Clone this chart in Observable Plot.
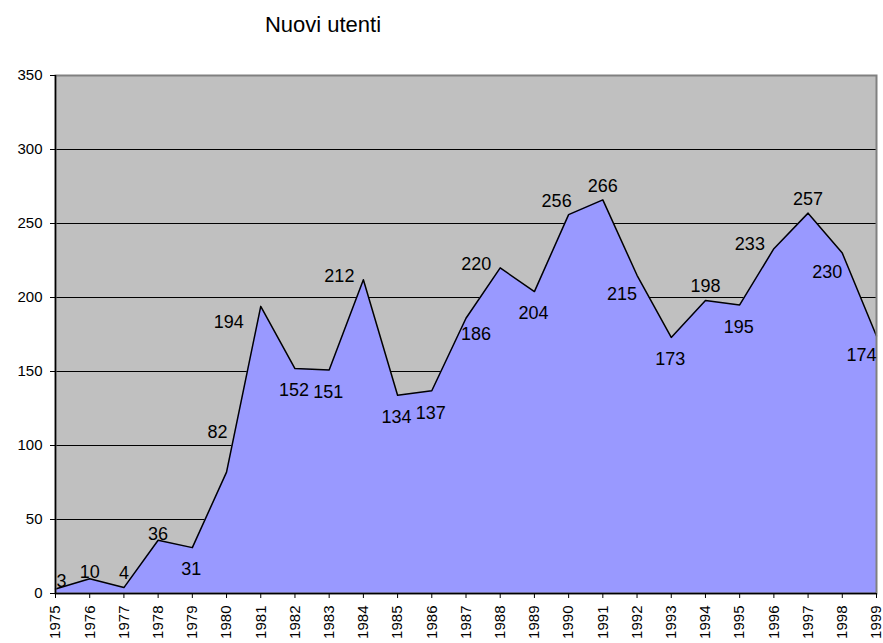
<!DOCTYPE html>
<html>
<head>
<meta charset="utf-8">
<script src="https://cdn.jsdelivr.net/npm/d3@7"></script>
<script src="https://cdn.jsdelivr.net/npm/@observablehq/plot@0.6"></script>
<style>
  html, body { margin: 0; padding: 0; background: #fff; }
  #wrap { position: relative; width: 883px; height: 643px; }
  #title { position: absolute; left: 0; width: 646px; top: 12px; text-align: center;
           font-family: "Liberation Sans", Arial, sans-serif; font-size: 22px; color: #000; }
</style>
</head>
<body>
<div id="wrap"><div id="title">Nuovi utenti</div></div>
<script>
const years = [1975,1976,1977,1978,1979,1980,1981,1982,1983,1984,1985,1986,1987,1988,1989,1990,1991,1992,1993,1994,1995,1996,1997,1998,1999];
const values = [3,10,4,36,31,82,194,152,151,212,134,137,186,220,204,256,266,215,173,198,195,233,257,230,174];
const yTicks = [0,50,100,150,200,250,300,350];
// where each data label sits relative to its point (compass side)
const labelSide = ["ne","nc","n","nc","s","nfar","wlow","s","s","w","s","s","se","w","s","nw","n","sw","s","n","s","w","n","sw","sw"];

const data = years.map((y, i) => ({year: y, value: values[i], side: labelSide[i]}));
const offsets = {
  n: [0, -14], nc: [0, -6], s: [-1, 22], w: [-24, -4], wlow: [-32, 16],
  sw: [-15, 19], nw: [-12, -13], nfar: [-9, -40], ne: [6, -8], se: [10, 16]
};

const labelMarks = Object.entries(offsets).map(([side, [dx, dy]]) =>
  Plot.text(data.filter(d => d.side === side), {
    x: "year", y: "value", text: d => String(d.value), dx, dy,
    fontSize: 18, fill: "#000"
  })
);

const chart = Plot.plot({
  width: 883,
  height: 643,
  marginLeft: 55,
  marginRight: 7,
  marginTop: 75,
  marginBottom: 50,
  style: {fontFamily: "Liberation Sans, Arial, sans-serif", fontSize: "15px", color: "#000", background: "transparent", overflow: "visible"},
  x: {domain: [1975, 1999], label: null},
  y: {domain: [0, 350], label: null},
  marks: [
    Plot.frame({fill: "#c0c0c0", stroke: null}),
    Plot.ruleY(yTicks.filter(t => t > 0 && t < 350), {stroke: "#000", strokeWidth: 1}),
    Plot.areaY(data, {x: "year", y: "value", fill: "#9999ff"}),
    Plot.lineY(data, {x: "year", y: "value", stroke: "#000", strokeWidth: 1.5}),
    Plot.frame({stroke: "#808080", strokeWidth: 2}),
    Plot.ruleX([1975], {stroke: "#000", strokeWidth: 1.5}),
    Plot.ruleY([0], {stroke: "#000", strokeWidth: 1.5}),
    Plot.axisY({ticks: yTicks, tickFormat: d => String(d), tickSize: 5, tickPadding: 8, fontSize: 15, label: null}),
    Plot.axisX({ticks: years, tickFormat: d => String(d), tickSize: 5, tickPadding: 7, tickRotate: -90, fontSize: 15, label: null}),
    ...labelMarks
  ]
});
document.getElementById("wrap").appendChild(chart);
</script>
</body>
</html>
